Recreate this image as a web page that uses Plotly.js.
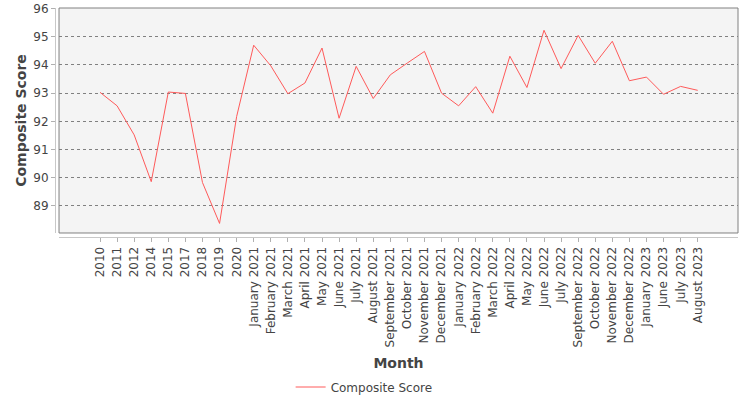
<!DOCTYPE html>
<html>
<head>
<meta charset="utf-8">
<script src="https://cdn.plot.ly/plotly-3.0.1.min.js"></script>
<style>
  html, body { margin: 0; padding: 0; background: #fff; }
  #chart { width: 750px; height: 400px; }
</style>
</head>
<body>
<div id="chart"></div>
<script>
var months = ['2010', '2011', '2012', '2014', '2015', '2017', '2018', '2019', '2020',
  'January 2021', 'February 2021', 'March 2021', 'April 2021', 'May 2021', 'June 2021',
  'July 2021', 'August 2021', 'September 2021', 'October 2021', 'November 2021', 'December 2021',
  'January 2022', 'February 2022', 'March 2022', 'April 2022', 'May 2022', 'June 2022',
  'July 2022', 'September 2022', 'October 2022', 'November 2022', 'December 2022',
  'January 2023', 'June 2023', 'July 2023', 'August 2023'];

var scores = [93.03, 92.55, 91.52, 89.86, 93.04, 92.99, 89.83, 88.38, 92.17,
  94.70, 93.97, 92.98, 93.36, 94.60, 92.11,
  93.95, 92.81, 93.65, 94.07, 94.48, 93.00,
  92.55, 93.23, 92.29, 94.31, 93.20, 95.23,
  93.87, 95.05, 94.06, 94.84, 93.44,
  93.57, 92.96, 93.24, 93.10];

var yTicks = [89, 90, 91, 92, 93, 94, 95, 96];

var font = 'DejaVu Sans, sans-serif';

var trace = {
  x: months,
  y: scores,
  type: 'scatter',
  mode: 'lines',
  name: 'Composite Score',
  line: {color: '#ff5a5a', width: 1}
};

var layout = {
  width: 750,
  height: 400,
  margin: {l: 55, r: 12, t: 8, b: 163},
  paper_bgcolor: '#ffffff',
  plot_bgcolor: '#f4f4f4',
  font: {family: font, size: 12, color: '#444'},
  showlegend: true,
  legend: {
    orientation: 'h',
    xref: 'container', yref: 'container',
    x: 0.4855, xanchor: 'center',
    y: 0.0325, yanchor: 'middle',
    font: {family: font, size: 12, color: '#444'}
  },
  xaxis: {
    type: 'category',
    categoryorder: 'array',
    categoryarray: months,
    domain: [0.0059, 1],
    anchor: 'free',
    position: 0,
    range: [-2.4, 37.36],
    showgrid: false,
    zeroline: false,
    showline: true,
    linecolor: '#c8c8c8',
    linewidth: 1,
    ticks: 'outside',
    ticklen: 4,
    tickcolor: '#b0b0b0',
    tickangle: -90,
    tickfont: {family: font, size: 12, color: '#444'},
    title: {text: 'Month', standoff: 11, font: {family: font, size: 14, color: '#444', weight: 'bold'}}
  },
  yaxis: {
    domain: [0.0175, 1],
    anchor: 'free',
    position: 0,
    range: [88.04, 96.02],
    tickvals: yTicks,
    ticktext: yTicks.map(String),
    showgrid: true,
    gridcolor: '#808080',
    griddash: 'dot',
    gridwidth: 1,
    zeroline: false,
    showline: true,
    linecolor: '#c8c8c8',
    linewidth: 1,
    ticks: 'outside',
    ticklen: 4,
    tickcolor: '#b0b0b0',
    tickfont: {family: font, size: 12, color: '#444'},
    title: {text: 'Composite Score', standoff: 2, font: {family: font, size: 14, color: '#444', weight: 'bold'}}
  },
  shapes: [{
    type: 'rect',
    xref: 'paper', yref: 'paper',
    x0: 0.0059, x1: 1, y0: 0.0175, y1: 1,
    line: {color: '#808080', width: 1},
    fillcolor: 'rgba(0,0,0,0)',
    layer: 'above'
  }]
};

Plotly.newPlot('chart', [trace], layout, {displayModeBar: false, staticPlot: true});
</script>
</body>
</html>
